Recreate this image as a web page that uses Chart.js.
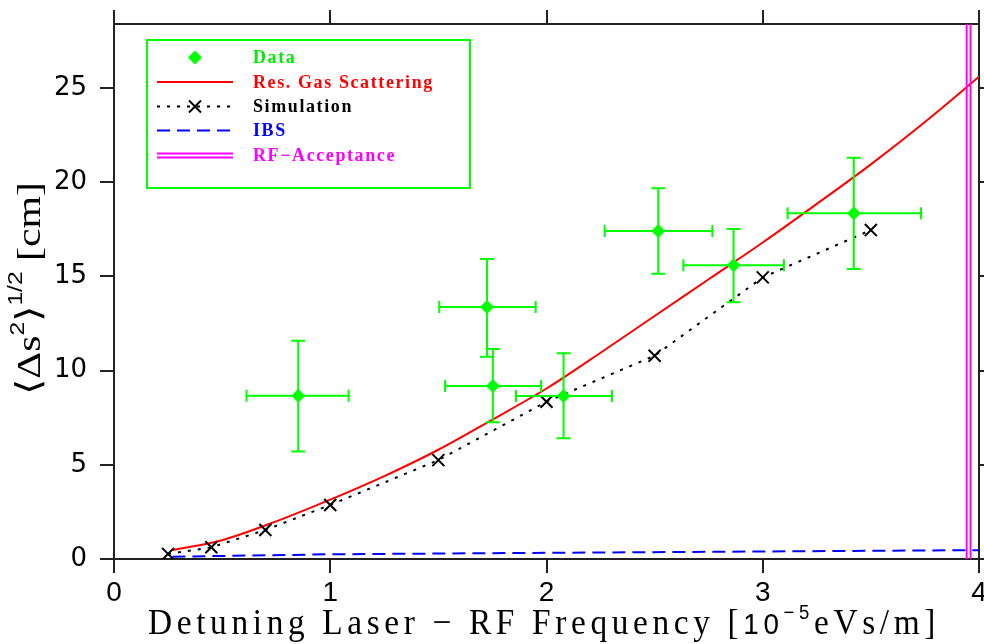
<!DOCTYPE html>
<html>
<head>
<meta charset="utf-8">
<script src="https://cdn.jsdelivr.net/npm/chart.js@4.4.0/dist/chart.umd.min.js"></script>
<style>
    html, body { margin: 0; padding: 0; background: #ffffff; }
    #wrap { width: 984px; height: 644px; }
</style>
</head>
<body>
<div id="wrap"><canvas id="chart" width="984" height="644"></canvas></div>
<script>
// Data points with error bars
var dataX = [0.852, 1.725, 1.752, 2.079, 2.517, 2.865, 3.421];
var dataY = [8.66, 13.38, 9.19, 8.65, 17.41, 15.6, 18.36];
var dataXLow = [0.613, 1.504, 1.531, 1.859, 2.269, 2.633, 3.115];
var dataXHigh = [1.085, 1.950, 1.975, 2.303, 2.767, 3.098, 3.732];
var dataYLow = [5.70, 10.74, 7.26, 6.41, 15.14, 13.63, 15.39];
var dataYHigh = [11.59, 15.92, 11.15, 10.92, 19.68, 17.52, 21.30];

// Res. gas scattering curve
var gasX = [0.27, 0.5, 0.75, 1.0, 1.25, 1.5, 1.75, 2.0, 2.25, 2.5, 2.75, 3.0, 3.25, 3.5, 3.75, 4.0];
var gasY = [0.48, 1.0, 2.0, 3.15, 4.4, 5.8, 7.4, 9.05, 10.95, 12.9, 14.85, 16.8, 18.85, 20.95, 23.2, 25.6];

// Simulation
var simX = [0.25, 0.45, 0.7, 1.0, 1.5, 2.0, 2.5, 3.0, 3.5];
var simY = [0.27, 0.62, 1.54, 2.87, 5.25, 8.35, 10.79, 14.95, 17.46];

// IBS
var ibsX = [0.27, 1.0, 2.0, 3.0, 4.0];
var ibsY = [0.12, 0.25, 0.33, 0.40, 0.47];

// RF acceptance (double line)
var rfX = [3.943, 3.961];

// Axes
var xTicks = [0, 1, 2, 3, 4];
var yTicks = [0, 5, 10, 15, 20, 25];
var xMin = 0, xMax = 4, yMin = 0, yMax = 28.4;

var legendLabels = ['Data', 'Res. Gas Scattering', 'Simulation', 'IBS', 'RF\u2212Acceptance'];

var GREEN = '#00ff00', RED = '#ff0000', BLUE = '#0000ff', MAGENTA = '#ff00ff', AXIS = '#222222';

function pairs(xs, ys) {
    return xs.map(function (x, i) { return { x: x, y: ys[i] }; });
}

/**
 * Draw text parts on one baseline, scaled to a width
 */
function drawRich(ctx, parts, width, spacing) {
    var total = 0;
    ctx.letterSpacing = (spacing || 0) + 'px';
    parts.forEach(function (p) {
        ctx.font = p.font;
        p.w = ctx.measureText(p.text).width;
        total += p.w;
    });
    var s = width / total;
    ctx.save();
    ctx.scale(s, 1);
    var x = 0;
    parts.forEach(function (p) {
        ctx.font = p.font;
        ctx.fillStyle = p.color || '#000';
        ctx.fillText(p.text, x, p.dy || 0);
        x += p.w;
    });
    ctx.restore();
    ctx.letterSpacing = '0px';
}

// Error bars
var errorBars = {
    id: 'errorBars',
    afterDatasetsDraw: function (chart) {
        var ctx = chart.ctx, xs = chart.scales.x, ys = chart.scales.y;
        ctx.save();
        ctx.strokeStyle = GREEN;
        ctx.lineWidth = 2;
        dataX.forEach(function (x, i) {
            var px = xs.getPixelForValue(x), py = ys.getPixelForValue(dataY[i]);
            var xl = xs.getPixelForValue(dataXLow[i]), xh = xs.getPixelForValue(dataXHigh[i]);
            var yl = ys.getPixelForValue(dataYLow[i]), yh = ys.getPixelForValue(dataYHigh[i]);
            ctx.beginPath();
            ctx.moveTo(xl, py); ctx.lineTo(xh, py);
            ctx.moveTo(xl, py - 6); ctx.lineTo(xl, py + 6);
            ctx.moveTo(xh, py - 6); ctx.lineTo(xh, py + 6);
            ctx.moveTo(px, yl); ctx.lineTo(px, yh);
            ctx.moveTo(px - 7, yl); ctx.lineTo(px + 7, yl);
            ctx.moveTo(px - 7, yh); ctx.lineTo(px + 7, yh);
            ctx.stroke();
        });
        ctx.restore();
    }
};

// Legend box and axis titles
var decorations = {
    id: 'decorations',
    afterDraw: function (chart) {
        var ctx = chart.ctx;
        ctx.save();

        // Legend box
        ctx.strokeStyle = GREEN;
        ctx.lineWidth = 2;
        ctx.strokeRect(147, 40, 323, 148);
        var rows = [57.5, 82, 106.5, 130.5, 155.5];
        var colors = ['#00ee00', RED, '#000000', BLUE, MAGENTA];
        ctx.font = 'bold 18px "Liberation Serif"';
        ctx.textBaseline = 'middle';
        ctx.letterSpacing = '1.6px';
        rows.forEach(function (ry, i) {
            ctx.fillStyle = colors[i];
            ctx.fillText(legendLabels[i], 253, ry + 1);
        });
        ctx.letterSpacing = '0px';
        // Data symbol
        ctx.fillStyle = GREEN;
        ctx.beginPath();
        ctx.moveTo(195, rows[0] - 7); ctx.lineTo(202, rows[0]); ctx.lineTo(195, rows[0] + 7); ctx.lineTo(188, rows[0]);
        ctx.closePath(); ctx.fill();
        // Gas line
        ctx.strokeStyle = RED; ctx.lineWidth = 2;
        ctx.beginPath(); ctx.moveTo(157, rows[1]); ctx.lineTo(233, rows[1]); ctx.stroke();
        // Simulation
        ctx.strokeStyle = '#000'; ctx.setLineDash([3, 7]);
        ctx.beginPath(); ctx.moveTo(157, rows[2]); ctx.lineTo(233, rows[2]); ctx.stroke();
        ctx.setLineDash([]);
        ctx.beginPath();
        ctx.moveTo(189, rows[2] - 6); ctx.lineTo(201, rows[2] + 6);
        ctx.moveTo(201, rows[2] - 6); ctx.lineTo(189, rows[2] + 6);
        ctx.stroke();
        // IBS
        ctx.strokeStyle = BLUE; ctx.setLineDash([13, 7]);
        ctx.beginPath(); ctx.moveTo(157, rows[3]); ctx.lineTo(233, rows[3]); ctx.stroke();
        ctx.setLineDash([]);
        // RF acceptance
        ctx.strokeStyle = MAGENTA;
        ctx.beginPath();
        ctx.moveTo(157, rows[4] - 2); ctx.lineTo(233, rows[4] - 2);
        ctx.moveTo(157, rows[4] + 2); ctx.lineTo(233, rows[4] + 2);
        ctx.stroke();

        ctx.textBaseline = 'alphabetic';
        // X title
        ctx.save();
        ctx.translate(148, 634);
        drawRich(ctx, [
            { text: 'Detuning Laser \u2212 RF Frequency [', font: '36px "Liberation Serif"' },
            { text: '10', font: '30px "Liberation Sans"' },
            { text: '\u22125', font: '20px "Liberation Sans"', dy: -15 },
            { text: 'eVs/m]', font: '36px "Liberation Serif"' }
        ], 792, 5);
        ctx.restore();

        // Y title
        ctx.save();
        ctx.translate(40, 395);
        ctx.rotate(-Math.PI / 2);
        drawRich(ctx, [
            { text: '\u27E8', font: '34px "DejaVu Sans"' },
            { text: '\u0394s', font: '34px "Liberation Serif"' },
            { text: '2', font: '20px "Liberation Sans"', dy: -16 },
            { text: '\u27E9', font: '34px "DejaVu Sans"' },
            { text: '1/2', font: '20px "Liberation Sans"', dy: -18 },
            { text: ' [cm]', font: '34px "Liberation Serif"' }
        ], 213);
        ctx.restore();

        ctx.restore();
    }
};

function fixedTicks(values) {
    return function (axis) {
        axis.ticks = values.map(function (v) { return { value: v }; });
    };
}

function fixSize(prop, size) {
    return function (s) {
        s[prop] = size;
        s.paddingLeft = 0; s.paddingRight = 0; s.paddingTop = 0; s.paddingBottom = 0;
    };
}

function axisGrid(len) {
    return { drawOnChartArea: false, drawTicks: true, tickLength: len, color: AXIS, lineWidth: 2 };
}

var datasets = [{
    label: legendLabels[0],
    data: pairs(dataX, dataY),
    showLine: false,
    pointStyle: 'rectRot',
    pointRadius: 7,
    pointBackgroundColor: GREEN,
    pointBorderWidth: 0
}, {
    label: legendLabels[2],
    data: pairs(simX, simY),
    borderColor: '#000000',
    borderWidth: 2,
    borderDash: [3, 7],
    pointStyle: 'crossRot',
    pointRadius: 8.5,
    pointBorderColor: '#000000',
    pointBorderWidth: 2
}, {
    label: legendLabels[1],
    data: pairs(gasX, gasY),
    borderColor: RED,
    borderWidth: 2,
    cubicInterpolationMode: 'monotone',
    pointRadius: 0
}, {
    label: legendLabels[3],
    data: pairs(ibsX, ibsY),
    borderColor: BLUE,
    borderWidth: 2,
    borderDash: [13, 7],
    pointRadius: 0
}];

rfX.forEach(function (x) {
    datasets.unshift({
        label: legendLabels[4],
        data: [{ x: x, y: yMin }, { x: x, y: yMax }],
        borderColor: MAGENTA,
        borderWidth: 2,
        pointRadius: 0
    });
});

new Chart(document.getElementById('chart').getContext('2d'), {
    type: 'line',
    data: { datasets: datasets },
    options: {
        responsive: false,
        animation: false,
        layout: { padding: 0, autoPadding: false },
        plugins: {
            legend: { display: false },
            tooltip: { enabled: false }
        },
        scales: {
            x: {
                type: 'linear', position: 'bottom', min: xMin, max: xMax,
                afterBuildTicks: fixedTicks(xTicks),
                afterFit: fixSize('height', 85),
                grid: axisGrid(14),
                border: { color: AXIS, width: 2 },
                ticks: { color: '#000', padding: 3, maxRotation: 0, font: { family: 'Liberation Sans', size: 28 } }
            },
            x2: {
                type: 'linear', position: 'top', min: xMin, max: xMax,
                afterBuildTicks: fixedTicks(xTicks),
                afterFit: fixSize('height', 24),
                grid: axisGrid(14),
                border: { color: AXIS, width: 2 },
                ticks: { display: false }
            },
            y: {
                type: 'linear', position: 'left', min: yMin, max: yMax,
                afterBuildTicks: fixedTicks(yTicks),
                afterFit: fixSize('width', 114),
                grid: axisGrid(14),
                border: { color: AXIS, width: 2 },
                ticks: { color: '#000', padding: 13, font: { family: 'DejaVu Sans', size: 26 } }
            },
            y2: {
                type: 'linear', position: 'right', min: yMin, max: yMax,
                afterBuildTicks: fixedTicks(yTicks),
                afterFit: fixSize('width', 5),
                grid: axisGrid(6),
                border: { color: AXIS, width: 2 },
                ticks: { display: false }
            }
        }
    },
    plugins: [errorBars, decorations]
});
</script>
</body>
</html>
